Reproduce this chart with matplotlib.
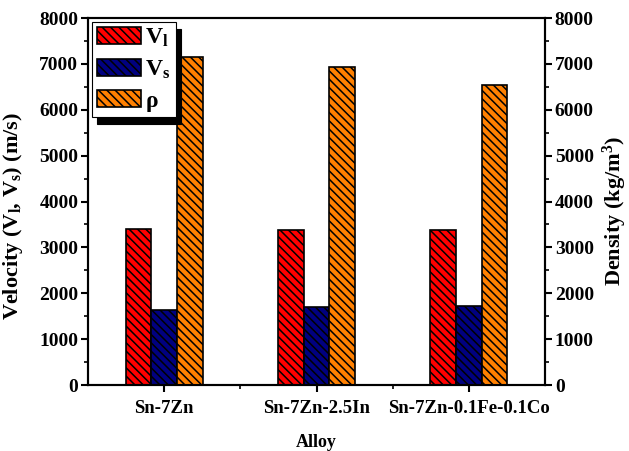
import numpy as np
import matplotlib
matplotlib.use("Agg")
from matplotlib import pyplot as plt

plt.rcParams['font.family'] = 'Liberation Serif'
plt.rcParams['font.weight'] = 'bold'
plt.rcParams['axes.labelweight'] = 'bold'
plt.rcParams['mathtext.fontset'] = 'custom'
plt.rcParams['mathtext.rm'] = 'Liberation Serif:bold'
plt.rcParams['mathtext.bf'] = 'Liberation Serif:bold'
plt.rcParams['mathtext.it'] = 'Liberation Serif:bold'
plt.rcParams['hatch.linewidth'] = 1.1
plt.rcParams['hatch.color'] = 'black'

# alloys and measured values
alloys = ['Sn-7Zn', 'Sn-7Zn-2.5In', 'Sn-7Zn-0.1Fe-0.1Co']
v_long = [3400, 3390, 3375]     # longitudinal velocity (m/s)
v_shear = [1640, 1710, 1725]    # shear velocity (m/s)
density = [7150, 6940, 6540]    # density (kg/m^3)

x = np.arange(len(alloys))
w = 0.168

fig = plt.figure(figsize=(6.29, 4.51), dpi=100)
ax = fig.add_axes([0.14, 0.1463, 0.7265, 0.8137])
ax2 = ax.twinx()

ax.bar(x - w, v_long, w, color='#FF0000', edgecolor='black', linewidth=1.2,
       hatch='\\\\\\\\', label=r'$\mathbf{V_l}$')
ax.bar(x, v_shear, w, color='#000080', edgecolor='black', linewidth=1.2,
       hatch='\\\\\\\\', label=r'$\mathbf{V_s}$')
ax2.bar(x + w, density, w, color='#FF8000', edgecolor='black', linewidth=1.2,
        hatch='\\\\\\\\', label='ρ')

for a in (ax, ax2):
    a.set_ylim(0, 8000)
    a.set_yticks(np.arange(0, 8001, 1000))
    a.set_yticks(np.arange(500, 8000, 1000), minor=True)
    a.tick_params(axis='y', which='major', direction='out', length=5, width=1.5,
                  labelsize=14, pad=2)
    a.tick_params(axis='y', which='minor', direction='out', length=3, width=1.2)
    for s in a.spines.values():
        s.set_linewidth(1.5)

ax.set_xlim(-0.5, 2.5)
ax.set_xticks(x)
ax.set_xticklabels(alloys)
ax.set_xticks([0.5, 1.5], minor=True)
ax.tick_params(axis='x', which='major', direction='out', length=5, width=1.5,
               labelsize=13.5, pad=6)
ax.tick_params(axis='x', which='minor', direction='out', length=3, width=1.2)

ax.set_xlabel('Alloy', fontsize=13, labelpad=12)
ax.set_ylabel(r'Velocity ($\mathbf{V_l}$, $\mathbf{V_s}$) (m/s)', fontsize=16)
ax2.set_ylabel(r'Density (kg/m$^\mathbf{3}$)', fontsize=16)
ax.yaxis.set_label_coords(-0.137, 0.46)
ax2.yaxis.set_label_coords(1.122, 0.474)

h1, l1 = ax.get_legend_handles_labels()
h2, l2 = ax2.get_legend_handles_labels()
leg = ax2.legend(h1 + h2, l1 + l2, loc='upper left', bbox_to_anchor=(0.008, 0.99),
                 borderaxespad=0, fontsize=17, handlelength=1.85, handleheight=0.72,
                 handletextpad=0.2, labelspacing=0.4, borderpad=0.22,
                 fancybox=False, framealpha=1, edgecolor='black',
                 shadow={'ox': 4, 'oy': -5, 'facecolor': 'black',
                         'edgecolor': 'black', 'alpha': 1})
leg.get_frame().set_linewidth(0.8)

fig.savefig('out.png', dpi=100)
